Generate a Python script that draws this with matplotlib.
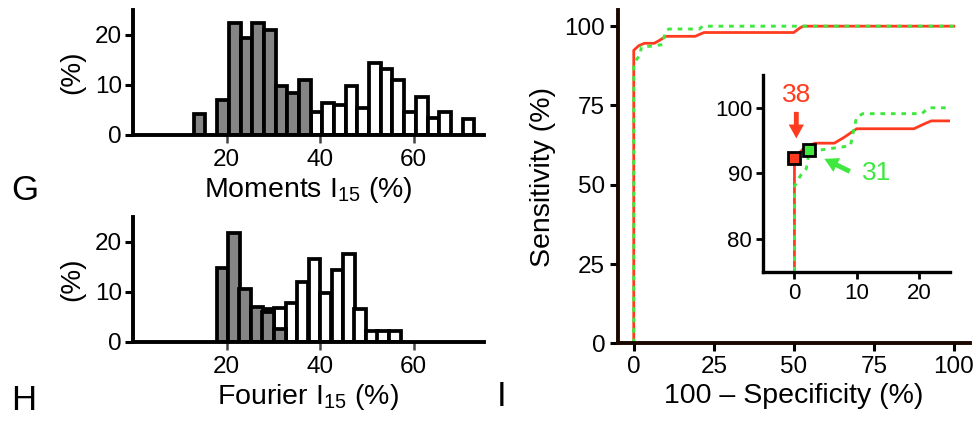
import numpy as np
import matplotlib.pyplot as plt

plt.rcParams['font.family'] = ['Liberation Sans', 'DejaVu Sans']
plt.rcParams['mathtext.fontset'] = 'custom'
plt.rcParams['mathtext.rm'] = 'Liberation Sans'
plt.rcParams['mathtext.default'] = 'regular'

# Moments I15 histogram (% of cells per bin)
mom_grey_x = [14.25, 19.25, 21.75, 24.25, 26.75, 29.25, 31.75, 34.25, 36.75]
mom_grey_y = [4.2, 7.0, 22.3, 19.3, 22.3, 21.0, 9.7, 8.3, 11.0]
mom_white_x = [39.25, 41.75, 44.25, 46.75, 49.25, 51.75, 54.25, 56.75,
               59.25, 61.75, 64.25, 66.75, 71.75]
mom_white_y = [4.5, 6.3, 6.0, 9.8, 5.3, 14.3, 13.1, 11.0, 4.5, 7.5, 3.3, 4.5, 3.1]
mom_bin = 2.5

# Fourier I15 histogram
fou_grey_x = [19.1, 21.6, 24.0, 26.5, 28.9, 31.4]
fou_grey_y = [14.7, 21.7, 10.5, 7.0, 5.9, 2.5]
fou_white_x = [28.9, 31.4, 33.9, 36.3, 38.8, 41.2, 43.7, 46.2, 48.6, 51.1, 53.5, 56.0]
fou_white_y = [6.6, 6.8, 7.7, 12.0, 16.5, 9.8, 14.3, 17.5, 6.5, 2.2, 2.2, 2.2]
fou_bin = 2.46

# ROC curves: 100 - specificity vs sensitivity
roc_mom_x = [0, 0, 1.5, 3.3, 6.4, 8.0, 10.0, 19.2, 21.0, 22.0, 50.0, 52.0, 53.0, 100]
roc_mom_y = [0, 92.4, 93.8, 94.6, 94.6, 95.5, 96.8, 96.8, 97.6, 98.0, 98.0, 99.5, 100, 100]
roc_fou_x = [0, 0, 1.0, 1.9, 2.4, 3.7, 9.0, 9.5, 10.0, 11.0, 20.5, 21.5, 100]
roc_fou_y = [0, 88.0, 89.7, 90.7, 93.5, 93.5, 94.2, 96.5, 98.6, 99.1, 99.1, 100, 100]
cut_mom = (0.0, 92.4)   # cutoff 38
cut_fou = (2.4, 93.5)   # cutoff 31

red = '#ff3b1f'
green = '#3ee83e'
grey = '#858585'

fig = plt.figure(figsize=(9.79, 4.28), dpi=100)


def hist_axes(rect, gx, gy, wx, wy, width, xlabel):
    ax = fig.add_axes(rect)
    ax.bar(wx, wy, width=width, color='white', edgecolor='black', linewidth=2.7, zorder=2)
    ax.bar(gx, gy, width=width, color=grey, edgecolor='black', linewidth=2.7, zorder=3)
    ax.set_xlim(0, 75)
    ax.set_ylim(0, 25)
    ax.set_xticks([20, 40, 60])
    ax.set_yticks([0, 10, 20])
    for s in ['top', 'right']:
        ax.spines[s].set_visible(False)
    for s in ['left', 'bottom']:
        ax.spines[s].set_linewidth(2.8)
        ax.spines[s].set_zorder(4)
    ax.tick_params(axis='y', length=6, width=2.2, labelsize=17.5, pad=2)
    ax.tick_params(axis='x', length=6, width=1.8, labelsize=17.5, pad=4, color='#444444')
    ax.set_ylabel('(%)', fontsize=20, labelpad=7)
    ax.set_xlabel(xlabel, fontsize=20.5, labelpad=3)
    return ax


hist_axes([0.1359, 0.6846, 0.3581, 0.2921], mom_grey_x, mom_grey_y,
          mom_white_x, mom_white_y, mom_bin, 'Moments I$_{15}$ (%)')
hist_axes([0.1359, 0.2016, 0.3581, 0.2921], fou_grey_x, fou_grey_y,
          fou_white_x, fou_white_y, fou_bin, 'Fourier I$_{15}$ (%)')

# main ROC panel
ax = fig.add_axes([0.631, 0.1979, 0.3596, 0.778])
ax.plot(roc_mom_x, roc_mom_y, color=red, lw=2.0, solid_joinstyle='round')
ax.plot(roc_fou_x, roc_fou_y, color=green, lw=2.1, linestyle=(0, (1.6, 2.0)))
ax.set_xlim(-5, 105)
ax.set_ylim(0, 105)
ax.set_xticks([0, 25, 50, 75, 100])
ax.set_yticks([0, 25, 50, 75, 100])
for s in ['top', 'right']:
    ax.spines[s].set_visible(False)
for s in ['left', 'bottom']:
    ax.spines[s].set_linewidth(2.8)
    ax.spines[s].set_color('#1a0800')
ax.tick_params(length=6, width=2.2, labelsize=17.5, pad=3)
ax.set_xlabel('100 \u2013 Specificity (%)', fontsize=20.5, labelpad=4)
ax.set_ylabel('Sensitivity (%)', fontsize=20.5, labelpad=6)

# zoomed inset near the top-left corner
ins = fig.add_axes([0.7797, 0.3652, 0.1907, 0.4596])
ins.plot(roc_mom_x, roc_mom_y, color=red, lw=2.0)
ins.plot(roc_fou_x, roc_fou_y, color=green, lw=2.1, linestyle=(0, (1.6, 2.0)))
ins.plot(*cut_mom, marker='s', ms=8.5, mfc=red, mec='black', mew=2.0, zorder=5)
ins.plot(*cut_fou, marker='s', ms=8.5, mfc=green, mec='black', mew=2.0, zorder=5)
ins.set_xlim(-5, 25)
ins.set_ylim(75, 105)
ins.set_xticks([0, 10, 20])
ins.set_yticks([80, 90, 100])
ins.patch.set_alpha(0)
for s in ['top', 'right']:
    ins.spines[s].set_visible(False)
for s in ['left', 'bottom']:
    ins.spines[s].set_linewidth(2.4)
ins.tick_params(length=5, width=2.0, labelsize=16, pad=3)

ins.text(0.3, 102.0, '38', color=red, fontsize=19, ha='center', va='center')
ins.annotate('', xy=(0.3, 94.9), xytext=(0.3, 99.8),
             arrowprops=dict(arrowstyle='simple,head_width=1.1,head_length=1.0,tail_width=0.35',
                             color=red, lw=0))
ins.text(13.2, 90.0, '31', color=green, fontsize=19, ha='center', va='center')
ins.annotate('', xy=(4.4, 92.4), xytext=(9.3, 90.1),
             arrowprops=dict(arrowstyle='simple,head_width=1.1,head_length=1.0,tail_width=0.35',
                             color=green, lw=0))

# panel letters
fig.text(25 / 979, 1 - 191 / 428, 'G', fontsize=25, ha='center', va='center')
fig.text(24 / 979, 1 - 401 / 428, 'H', fontsize=25, ha='center', va='center')
fig.text(502 / 979, 1 - 397 / 428, 'I', fontsize=25, ha='center', va='center')

fig.savefig('out.png', dpi=100)
